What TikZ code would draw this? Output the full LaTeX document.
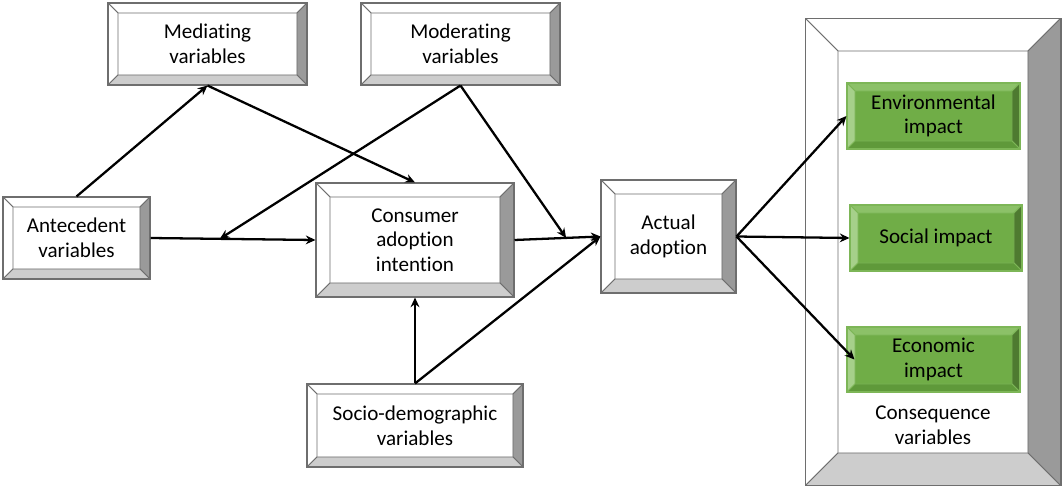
\documentclass[tikz,border=0pt]{standalone}
\usepackage{fontspec}
\setmainfont[Ligatures=NoCommon]{Carlito}
\usetikzlibrary{calc,arrows.meta}
\definecolor{linegray}{HTML}{6E6E6E}
\definecolor{bevelgray}{HTML}{9A9A9A}
\definecolor{bevellight}{HTML}{CDCDCD}
\definecolor{greenmain}{HTML}{70AD47}
\definecolor{greentop}{HTML}{8CC168}
\definecolor{greenleft}{HTML}{A6D08A}
\definecolor{greenright}{HTML}{4E7A30}
\definecolor{greenbottom}{HTML}{5F993A}
\definecolor{greenline}{HTML}{7DB657}
\newcommand{\bevelpaint}[6]{%
        \coordinate (pp-nw) at (path picture bounding box.north west);
        \coordinate (pp-ne) at (path picture bounding box.north east);
        \coordinate (pp-sw) at (path picture bounding box.south west);
        \coordinate (pp-se) at (path picture bounding box.south east);
        \filldraw[fill=#2, draw=#6, line width=0.5pt] (pp-nw) -- (pp-ne) -- ($(pp-ne)+(-#1,-#1)$) -- ($(pp-nw)+(#1,-#1)$) -- cycle;
        \filldraw[fill=#3, draw=#6, line width=0.5pt] (pp-nw) -- ($(pp-nw)+(#1,-#1)$) -- ($(pp-sw)+(#1,#1)$) -- (pp-sw) -- cycle;
        \filldraw[fill=#4, draw=#6, line width=0.5pt] (pp-ne) -- (pp-se) -- ($(pp-se)+(-#1,#1)$) -- ($(pp-ne)+(-#1,-#1)$) -- cycle;
        \filldraw[fill=#5, draw=#6, line width=0.5pt] (pp-sw) -- (pp-se) -- ($(pp-se)+(-#1,#1)$) -- ($(pp-sw)+(#1,#1)$) -- cycle;
}
\begin{document}
\begin{tikzpicture}[x=0.02cm, y=-0.02cm,
        font=\fontsize{12}{14}\selectfont,
        bevelbox/.style={draw=linegray, line width=0.6pt, fill=white, align=center, inner sep=0pt,
                path picture={\bevelpaint{#1}{white}{white}{bevelgray}{bevellight}{linegray}}},
        greenbox/.style={draw=greenline, line width=0.6pt, fill=greenmain, align=center, inner sep=0pt,
                path picture={\bevelpaint{#1}{greentop}{greenleft}{greenright}{greenbottom}{greenline}}},
        arrowline/.style={-{Stealth[length=5.5pt,width=5pt]}, line width=1.3pt},
]
        \useasboundingbox (0,0) rectangle (1063,487);

        \node[bevelbox=0.2cm, minimum width=3.98cm, minimum height=1.64cm] (med) at (207.5,44) {Mediating\\variables};
        \node[bevelbox=0.2cm, minimum width=3.98cm, minimum height=1.64cm] (mod) at (460.5,44) {Moderating\\variables};
        \node[bevelbox=0.2cm, minimum width=2.94cm, minimum height=1.64cm] (ante) at (76.5,238) {Antecedent\\variables};
        \node[bevelbox=0.28cm, minimum width=3.96cm, minimum height=2.28cm] (cai) at (415,240) {Consumer\\adoption\\intention};
        \node[bevelbox=0.28cm, minimum width=2.70cm, minimum height=2.26cm] (act) at (668.5,236.5) {Actual\\adoption};
        \node[bevelbox=0.2cm, minimum width=4.32cm, minimum height=1.66cm] (socio) at (415,425.5) {Socio-demographic\\variables};
        \node[bevelbox=0.66cm, minimum width=5.12cm, minimum height=9.36cm] (cons) at (933,252) {};
        \node[greenbox=0.16cm, minimum width=3.46cm, minimum height=1.32cm] (env) at (933.5,116) {Environmental\\impact};
        \node[greenbox=0.16cm, minimum width=3.44cm, minimum height=1.32cm] (soc) at (936,238) {Social impact};
        \node[greenbox=0.16cm, minimum width=3.46cm, minimum height=1.30cm] (eco) at (933.5,359.5) {Economic\\impact};
        \node[align=center] (conslabel) at (933,425) {Consequence\\variables};

        \coordinate (jante) at ($(ante.east)!0.42!(cai.west)$);
        \coordinate (jcai) at ($(cai.east)!0.6!(act.west)$);

        \draw[arrowline] (ante.north) -- (med.south);
        \draw[arrowline] (med.south) -- (cai.north);
        \draw[arrowline] (mod.south) -- (jante);
        \draw[arrowline] (mod.south) -- (jcai);
        \draw[arrowline] (ante.east) -- (cai.west);
        \draw[arrowline] (cai.east) -- (act.west);
        \draw[arrowline] (socio.north) -- (cai.south);
        \draw[arrowline] (socio.north) -- (act.west);
        \draw[arrowline] (act.east) -- (env.west);
        \draw[arrowline] (act.east) -- (soc.west);
        \draw[arrowline] (act.east) -- ([xshift=0.16cm]eco.west);
\end{tikzpicture}
\end{document}
